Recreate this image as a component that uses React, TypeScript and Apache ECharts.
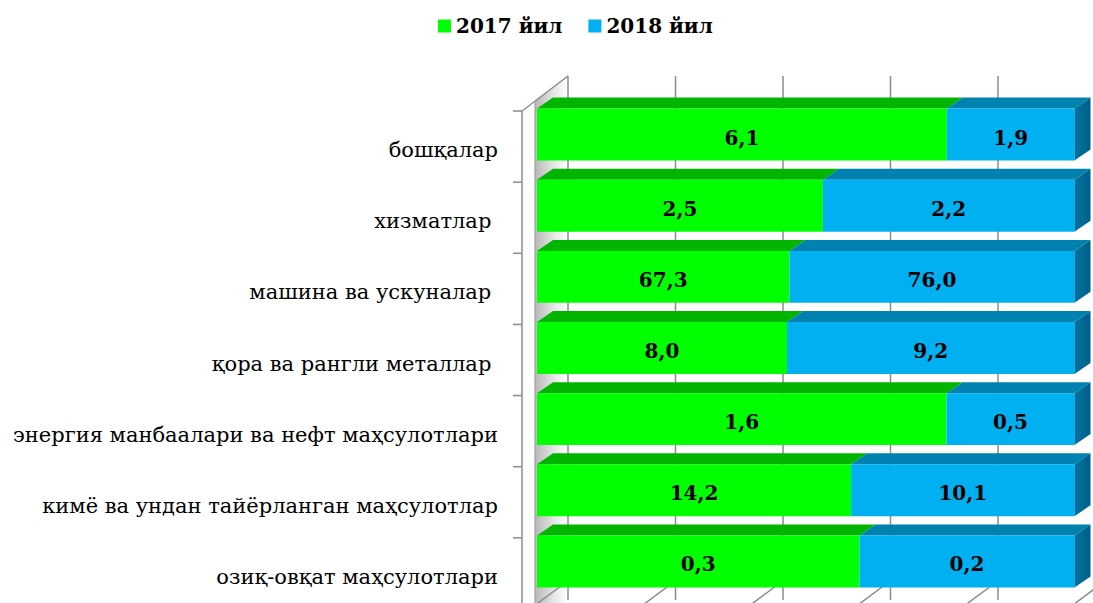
import React, { useEffect, useRef } from "react";
import * as echarts from "echarts";

const categories = [
  "бошқалар",
  "хизматлар ",
  "машина ва ускуналар ",
  "қора ва рангли металлар ",
  "энергия манбаалари ва нефт маҳсулотлари",
  "кимё ва ундан тайёрланган маҳсулотлар",
  "озиқ-овқат маҳсулотлари",
];
const values2017 = [6.1, 2.5, 67.3, 8.0, 1.6, 14.2, 0.3];
const values2018 = [1.9, 2.2, 76.0, 9.2, 0.5, 10.1, 0.2];
const seriesNames = ["2017 йил", "2018 йил"];

const FONT = "DejaVu Serif";

// layout (front plane of the 3D plot)
const GL = 537;
const GR = 1074.5;
const GT = 99;
const GB = 597;
const W = GR - GL;
const DX = 31; // depth of back wall
const DY = -23;
const BDX = 16; // bar depth
const BDY = -11;

const COLORS = [
  { front: "#00ff00", top: "#00b400", side: "#00a000" },
  { front: "#00b0f0", top: "#0082b0", side: "#0074a2" },
];

function fmt(v: number) {
  return v.toFixed(1).replace(".", ",");
}

function buildData(idx: number) {
  return categories.map((_, i) => {
    const a = values2017[i];
    const b = values2018[i];
    const share = (a / (a + b)) * 100;
    if (idx === 0) return [0, share, i, a, 0];
    return [share, 100, i, b, 1];
  });
}

function makeRender(idx: number) {
  const c = COLORS[idx];
  return (params: any, api: any) => {
    const s = api.value(0);
    const e = api.value(1);
    const cat = api.value(2);
    const raw = api.value(3);
    const last = api.value(4) === 1;
    const p0 = api.coord([s, cat]);
    const p1 = api.coord([e, cat]);
    const band = api.size([0, 1])[1];
    const h = band * 0.73;
    const x0 = p0[0];
    const x1 = p1[0];
    const yc = p0[1];
    const yt = yc - h / 2;
    const yb = yc + h / 2;
    const children: any[] = [
      {
        type: "polygon",
        shape: {
          points: [
            [x0, yt],
            [x0 + BDX, yt + BDY],
            [x1 + BDX, yt + BDY],
            [x1, yt],
          ],
        },
        style: { fill: c.top },
      },
      {
        type: "rect",
        shape: { x: x0, y: yt, width: x1 - x0, height: h },
        style: { fill: c.front },
      },
    ];
    if (last) {
      children.push({
        type: "polygon",
        shape: {
          points: [
            [x1, yt],
            [x1 + BDX, yt + BDY],
            [x1 + BDX, yb + BDY],
            [x1, yb],
          ],
        },
        style: {
          fill: new echarts.graphic.LinearGradient(0, 0, 1, 0, [
            { offset: 0, color: c.side },
            { offset: 1, color: "#005f86" },
          ]),
        },
      });
    }
    children.push({
      type: "text",
      x: (x0 + x1) / 2,
      y: yc + 3,
      style: {
        text: fmt(raw),
        fontFamily: FONT,
        fontWeight: "bold",
        fontSize: 20,
        fill: "#000",
        align: "center",
        verticalAlign: "middle",
      },
    });
    return { type: "group", children };
  };
}

function decorations() {
  const els: any[] = [];
  els.push({
    type: "polygon",
    shape: {
      points: [
        [535, 101],
        [GL + DX, GT + DY],
        [GL + DX, 620],
        [535, 640],
      ],
    },
    style: {
      fill: new echarts.graphic.LinearGradient(0, 0, 1, 0, [
        { offset: 0, color: "#b8b8b8" },
        { offset: 0.6, color: "#e8e8e8" },
        { offset: 1, color: "#ffffff" },
      ]),
    },
    z: 0,
  });
  for (let k = 0; k <= 5; k++) {
    const x = GL + DX + (k * W) / 5;
    els.push({
      type: "line",
      shape: { x1: x, y1: GT + DY, x2: x, y2: 600 },
      style: { stroke: "#8c8c8c", lineWidth: 1.5 },
      z: 0,
    });
  }
  for (let k = 0; k <= 5; k++) {
    const x = GL + (k * W) / 5 - 3;
    els.push({
      type: "line",
      shape: { x1: x, y1: 606, x2: x + DX, y2: 606 + DY },
      style: { stroke: "#8c8c8c", lineWidth: 1.5 },
      z: 0,
    });
  }
  els.push({
    type: "polyline",
    shape: {
      points: [
        [522, 620],
        [522, 111],
        [GL + DX, GT + DY],
      ],
    },
    style: { stroke: "#8c8c8c", lineWidth: 1.5, fill: null },
    z: 0,
  });
  els.push({
    type: "line",
    shape: { x1: 535, y1: 101, x2: 535, y2: 620 },
    style: { stroke: "#a0a0a0", lineWidth: 1.2 },
    z: 0,
  });
  const band = (GB - GT) / categories.length;
  for (let k = 0; k <= categories.length; k++) {
    const y = 111 + k * band;
    els.push({
      type: "line",
      shape: { x1: 513, y1: y, x2: 522, y2: y },
      style: { stroke: "#8c8c8c", lineWidth: 1.5 },
      z: 0,
    });
  }
  return els;
}

export default function App() {
  const ref = useRef<HTMLDivElement>(null);
  useEffect(() => {
    if (!ref.current) return;
    const chart = echarts.init(ref.current, undefined, { renderer: "svg" });
    chart.setOption({
      animation: false,
      backgroundColor: "#ffffff",
      textStyle: { fontFamily: FONT },
      legend: {
        left: 433,
        top: 11,
        itemWidth: 13,
        itemHeight: 13,
        itemGap: 26,
        icon: "rect",
        textStyle: {
          fontFamily: FONT,
          fontWeight: "bold",
          fontSize: 20,
          color: "#000",
        },
        data: seriesNames,
      },
      grid: {
        left: GL,
        top: GT,
        width: W,
        height: GB - GT,
        containLabel: false,
        outerBoundsMode: "none",
      },
      xAxis: {
        type: "value",
        min: 0,
        max: 100,
        interval: 20,
        show: false,
      },
      yAxis: {
        type: "category",
        inverse: true,
        data: categories,
        axisLine: { show: false },
        axisTick: { show: false },
        axisLabel: {
          fontFamily: FONT,
          fontSize: 21,
          color: "#000",
          margin: 39,
          verticalAlign: "top",
          padding: [5, 0, 0, 0],
        },
      },
      graphic: decorations(),
      series: [0, 1].map((idx) => ({
        type: "custom",
        name: seriesNames[idx],
        itemStyle: { color: COLORS[idx].front },
        renderItem: makeRender(idx),
        encode: { x: [0, 1], y: 2 },
        data: buildData(idx),
        z: 2,
      })),
    });
    return () => chart.dispose();
  }, []);
  return (
    <div
      ref={ref}
      style={{ position: "fixed", left: 0, top: 0, width: 1093, height: 603 }}
    />
  );
}
